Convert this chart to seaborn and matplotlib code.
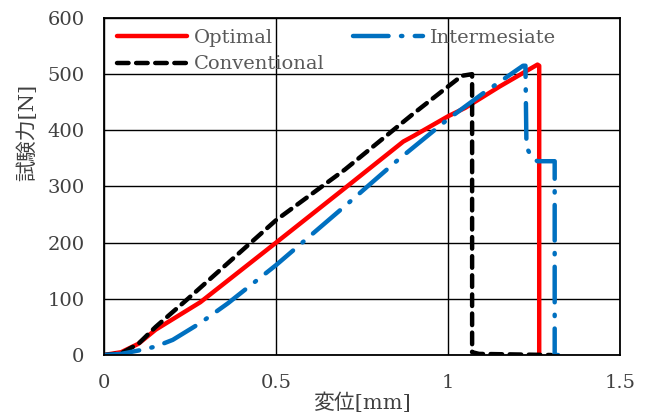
import pandas as pd
import matplotlib
matplotlib.use("Agg")
import matplotlib.pyplot as plt
import seaborn as sns

## Data (displacement [mm], force [N])
optimal_x = [0, 0.05, 0.1, 0.15, 0.28, 0.5, 0.7, 0.87, 0.9, 1.0, 1.05, 1.15, 1.26, 1.265, 1.265]
optimal_y = [0, 5, 20, 45, 94, 200, 297, 380, 390, 425, 440, 478, 517, 515, 0]

inter_x = [0, 0.05, 0.1, 0.15, 0.2, 0.28, 0.36, 0.5, 0.7, 0.85, 1.0, 1.1, 1.218, 1.225,
           1.228, 1.245, 1.26, 1.31, 1.31, 1.32]
inter_y = [0, 2, 8, 15, 27, 57, 92, 160, 265, 345, 420, 465, 515, 515,
           370, 350, 345, 345, 0, 0]

conv_x = [0, 0.05, 0.1, 0.15, 0.24, 0.5, 0.7, 0.9, 1.0, 1.04, 1.07, 1.07, 1.09, 1.3]
conv_y = [0, 3, 20, 50, 98, 240, 330, 430, 478, 497, 500, 5, 2, 0]

x_ticks = [0, 0.5, 1, 1.5]
x_tick_labels = ["0", "0.5", "1", "1.5"]
y_ticks = [0, 100, 200, 300, 400, 500, 600]

## Style
sns.set_style("white")
plt.rcParams["font.family"] = ["DejaVu Serif", "Noto Sans CJK JP"]

fig = plt.figure(figsize=(6.52, 4.18), dpi=100)
ax = fig.add_axes([0.1595, 0.1507, 0.7915, 0.8063])

sns.lineplot(x=optimal_x, y=optimal_y, sort=False, estimator=None, color="#FF0000",
             linewidth=3.2, label="Optimal", ax=ax)
sns.lineplot(x=conv_x, y=conv_y, sort=False, estimator=None, color="black",
             linewidth=3.2, label="Conventional", ax=ax)
sns.lineplot(x=inter_x, y=inter_y, sort=False, estimator=None, color="#0070C0",
             linewidth=3.2, label="Intermesiate", ax=ax)

ax.lines[1].set_dashes([2.6, 1.7])
ax.lines[1].set_dash_capstyle("round")
ax.lines[2].set_dashes([8, 2.8, 0.3, 2.8])
ax.lines[2].set_dash_capstyle("round")

ax.set_xlim(0, 1.5)
ax.set_ylim(0, 600)
ax.set_xticks(x_ticks)
ax.set_xticklabels(x_tick_labels)
ax.set_yticks(y_ticks)
ax.tick_params(length=0, labelsize=14, labelcolor="#404040")
ax.tick_params(axis="x", pad=14)
ax.tick_params(axis="y", pad=14)
ax.grid(True, color="black", linewidth=1.0)
for s in ax.spines.values():
    s.set_color("black")
    s.set_linewidth(1.3)

ax.set_xlabel("変位[mm]", fontsize=15, color="#404040")
ax.set_ylabel("試験力[N]", fontsize=15, color="#404040")
ax.xaxis.set_label_coords(0.5, -0.11)
ax.yaxis.set_label_coords(-0.13, 0.66)

handles, labels = ax.get_legend_handles_labels()
leg = ax.legend(handles, labels, ncol=2, loc="upper left", bbox_to_anchor=(0.01, 0.99),
                frameon=False, fontsize=14, handlelength=3.6, handletextpad=0.36,
                columnspacing=1.45, labelspacing=0.43, borderaxespad=0.0,
                borderpad=0.4)
for t in leg.get_texts():
    t.set_color("#595959")

fig.savefig("out.png", dpi=100)
